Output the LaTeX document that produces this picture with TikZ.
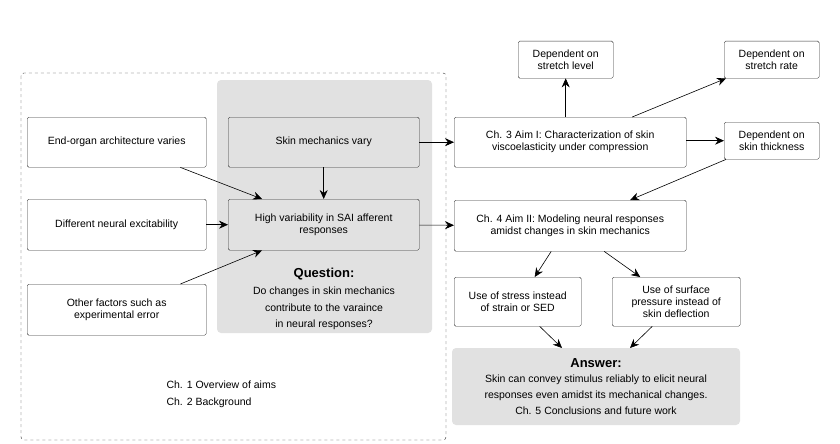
\documentclass[tikz,border=0pt]{standalone}
\usepackage{fontspec}
\setmainfont{Liberation Sans}
\usepackage{xcolor}
\definecolor{boxLine}{HTML}{333333}
\definecolor{shadeGray}{HTML}{BDBDBD}
\usetikzlibrary{arrows.meta,positioning,calc}
\tikzset{
    block/.style={
        draw=boxLine,
        fill=white,
        rectangle,
        rounded corners=1.5pt,
        align=center,
        anchor=north west,
        inner sep=0pt,
        font=\fontsize{10.5}{12}\selectfont
    },
    shaded/.style={
        fill=shadeGray,
        fill opacity=0.45,
        rounded corners=4pt
    },
    arrow/.style={
        -{Stealth[length=9pt,width=8pt,inset=3pt]},
        semithick,
        color=black
    },
    note/.style={
        align=center,
        font=\fontsize{10.5}{12}\selectfont
    }
}
\begin{document}
\begin{tikzpicture}[x=1pt,y=-1pt]
    \useasboundingbox (0,0) rectangle (840,444);
    % Groups
    \draw[dashed, boxLine, rounded corners=3pt] (21,73) rectangle (446,440);
    \fill[shaded] (217,80) rectangle (432,333);
    \fill[shaded] (452,348) rectangle (740,425);

    % Left column
    \node[block, minimum width=179pt, minimum height=50pt] (organ) at (27,117) {End-organ architecture varies};
    \node[block, minimum width=179pt, minimum height=51pt] (excite) at (27,199) {Different neural excitability};
    \node[block, minimum width=179pt, minimum height=51pt] (other) at (27,284) {Other factors such as\\experimental error};

    % Question
    \node[block, fill=shadeGray!45, minimum width=191pt, minimum height=50pt] (mech) at (228,117) {Skin mechanics vary};
    \node[block, fill=shadeGray!45, minimum width=191pt, minimum height=51pt] (vary) at (228,199) {High variability in SAI afferent\\responses};
    \node[note, font=\fontsize{13}{15}\selectfont\bfseries] (qhead) at (324,274) {Question:};
    \node[note, below=0pt of qhead, font=\fontsize{10.5}{16.5}\selectfont] (qtext) {Do changes in skin mechanics\\contribute to the varaince\\in neural responses?};
    \node[note, align=left, anchor=north west, font=\fontsize{10.5}{17}\selectfont] (chap) at (163,377) {Ch. 1 Overview of aims\\Ch. 2 Background};

    % Aim I
    \node[block, minimum width=232pt, minimum height=50pt] (aimone) at (454,117) {Ch. 3 Aim I: Characterization of skin\\viscoelasticity under compression};
    \node[block, minimum width=95pt, minimum height=37pt] (level) at (518,41) {Dependent on\\stretch level};
    \node[block, minimum width=95pt, minimum height=37pt] (rate) at (724,41) {Dependent on\\stretch rate};
    \node[block, minimum width=95pt, minimum height=37pt] (thick) at (724,122) {Dependent on\\skin thickness};

    % Aim II
    \node[block, minimum width=232pt, minimum height=51pt] (aimtwo) at (454,200) {Ch. 4 Aim II: Modeling neural responses\\amidst changes in skin mechanics};
    \node[block, minimum width=127pt, minimum height=49pt] (stress) at (454,277) {Use of stress instead\\of strain or SED};
    \node[block, minimum width=128pt, minimum height=49pt] (press) at (612,277) {Use of surface\\pressure instead of\\skin deflection};

    % Answer
    \node[note, font=\fontsize{13}{15}\selectfont\bfseries] (ahead) at (596,363) {Answer:};
    \node[note, below=0pt of ahead, font=\fontsize{10.5}{16}\selectfont] (atext) {Skin can convey stimulus reliably to elicit neural\\responses even amidst its mechanical changes.\\Ch. 5 Conclusions and future work};

    % Arrows
    \draw[arrow] ($(organ.south east)+(-26,0)$) -- ($(vary.north west)+(34,0)$);
    \draw[arrow] (excite) -- (vary);
    \draw[arrow] ($(other.north east)+(-26,0)$) -- ($(vary.south west)+(34,0)$);
    \draw[arrow] (mech) -- (vary);
    \draw[arrow] (mech) -- (aimone);
    \draw[arrow] (vary) -- (aimtwo);
    \draw[arrow] (aimone.north -| level) -- (level);
    \draw[arrow] ($(aimone.north)+(62,0)$) -- ($(rate.south west)+(2,0)$);
    \draw[arrow] (aimone.east |- thick) -- (thick);
    \draw[arrow] ($(thick.south west)+(2,0)$) -- ($(aimtwo.north)+(60,0)$);
    \draw[arrow] ($(aimtwo.south)+(-19,0)$) -- ($(stress.north)+(17,0)$);
    \draw[arrow] ($(aimtwo.south)+(34,0)$) -- ($(press.north)+(-36,0)$);
    \draw[arrow] ($(stress.south)+(22,0)$) -- (562,348);
    \draw[arrow] ($(press.south)+(-24,0)$) -- (630,348);
\end{tikzpicture}
\end{document}
